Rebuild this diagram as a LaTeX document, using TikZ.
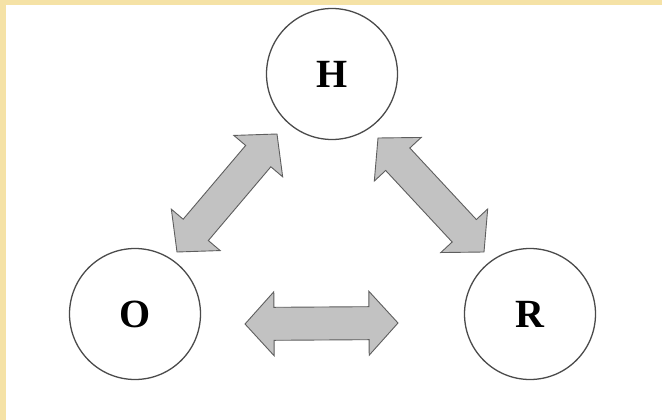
\documentclass[tikz,border=0pt]{standalone}
\usepackage{fontspec}
\setmainfont{Liberation Serif}
\usetikzlibrary{calc}
\definecolor{beige}{HTML}{F5E2A6}
\definecolor{ringcol}{HTML}{4A4A4A}
\definecolor{arrfill}{HTML}{C2C2C2}
\definecolor{arrline}{HTML}{5E5E5E}
\tikzset{
  ring/.style={circle, draw=ringcol, line width=1.3pt, minimum size=131pt, inner sep=0pt,
    font=\fontsize{40}{40}\selectfont\bfseries},
  blockarrow/.style={fill=arrfill, draw=arrline, line width=0.9pt, line join=miter}
}
\newcommand{\blkarrow}[2]{%
  \path[blockarrow]
    (#1) -- ($($(#1)!29pt!(#2)$)!32pt!90:(#2)$)
    -- ($($(#1)!29pt!(#2)$)!16.5pt!90:(#2)$)
    -- ($($(#2)!29pt!(#1)$)!16.5pt!-90:(#1)$)
    -- ($($(#2)!29pt!(#1)$)!32pt!-90:(#1)$)
    -- (#2)
    -- ($($(#2)!29pt!(#1)$)!32pt!90:(#1)$)
    -- ($($(#2)!29pt!(#1)$)!16.5pt!90:(#1)$)
    -- ($($(#1)!29pt!(#2)$)!16.5pt!-90:(#2)$)
    -- ($($(#1)!29pt!(#2)$)!32pt!-90:(#2)$)
    -- cycle;}
\begin{document}
\begin{tikzpicture}[x=1pt,y=-1pt]
\useasboundingbox (0,0) rectangle (662,420);
\fill[white] (0,0) rectangle (662,420);
\fill[beige] (0,0) rectangle (662,5);
\fill[beige] (0,0) rectangle (6,420);

\node[ring] (H) at (332,74) {H};
\node[ring] (O) at (135,314) {O};
\node[ring] (R) at (530,314) {R};

\coordinate (ho1) at (277,134);
\coordinate (ho2) at (177,252);
\coordinate (hr1) at (378,138);
\coordinate (hr2) at (484,252);
\coordinate (or1) at (245,324);
\coordinate (or2) at (398,323);

\blkarrow{ho1}{ho2}
\blkarrow{hr1}{hr2}
\blkarrow{or1}{or2}
\end{tikzpicture}
\end{document}
